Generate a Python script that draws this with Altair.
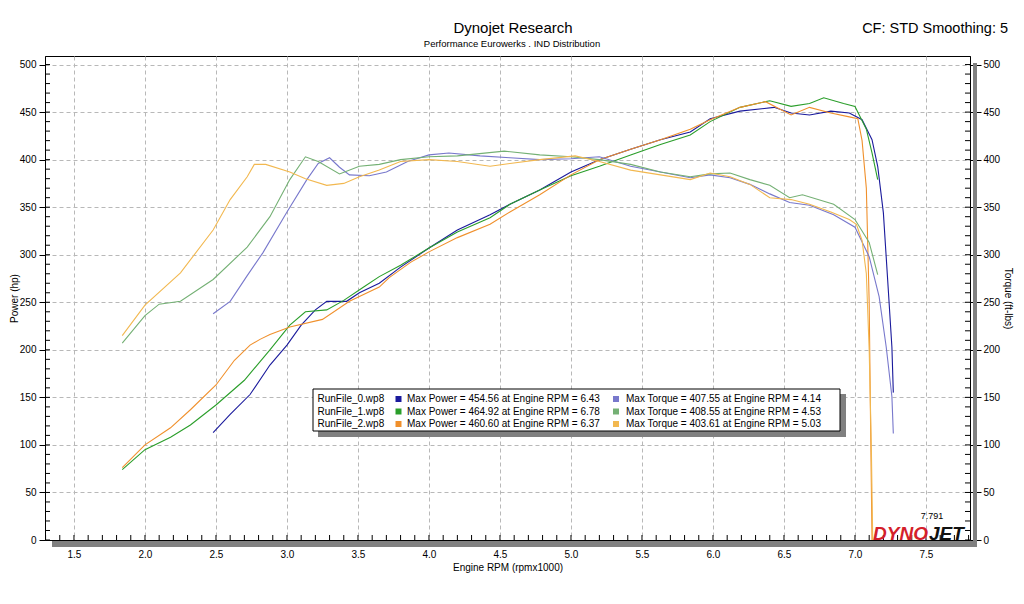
import altair as alt
import pandas as pd

# ---------------- data ----------------
run0_power_rpm = [2.48, 2.60, 2.74, 2.88, 3.00, 3.10, 3.20, 3.28, 3.42, 3.51, 3.65, 3.80, 4.00, 4.20, 4.43, 4.57, 4.78, 5.00, 5.20, 5.42, 5.63, 5.84, 5.98, 6.19, 6.43, 6.55, 6.68, 6.83, 6.96, 7.05, 7.12, 7.16, 7.20, 7.23, 7.26, 7.27]
run0_power_hp = [113, 132, 153, 184, 205, 226, 242, 251, 251, 260, 270, 287, 307, 326, 342, 353, 368, 387, 400, 411, 421, 429, 443, 451, 455, 449, 447, 451, 449, 442, 421, 393, 344, 274, 203, 155]

run0_torque_rpm = [2.48, 2.60, 2.72, 2.83, 3.00, 3.14, 3.22, 3.30, 3.37, 3.44, 3.58, 3.70, 3.85, 4.00, 4.14, 4.36, 4.57, 4.78, 5.00, 5.20, 5.42, 5.63, 5.84, 5.98, 6.12, 6.26, 6.40, 6.54, 6.68, 6.85, 7.00, 7.10, 7.17, 7.22, 7.26, 7.27]
run0_torque_lbft = [238, 251, 278, 302, 345, 379, 396, 402, 392, 384, 383, 387, 398, 405, 407, 404, 402, 400, 401, 403, 393, 387, 381, 384, 381, 374, 364, 355, 352, 342, 329, 298, 256, 203, 151, 112]

run1_power_rpm = [1.84, 2.00, 2.18, 2.32, 2.50, 2.70, 2.88, 3.02, 3.13, 3.28, 3.40, 3.54, 3.65, 3.80, 4.00, 4.20, 4.43, 4.57, 4.78, 5.00, 5.20, 5.42, 5.63, 5.84, 5.98, 6.19, 6.40, 6.55, 6.68, 6.78, 6.92, 7.00, 7.08, 7.12, 7.16]
run1_power_hp = [74, 95, 108, 121, 142, 168, 200, 226, 240, 242, 252, 266, 277, 289, 307, 324, 339, 353, 368, 383, 393, 405, 416, 426, 440, 455, 462, 456, 459, 465, 459, 456, 432, 407, 379]

run1_torque_rpm = [1.84, 2.00, 2.10, 2.25, 2.48, 2.72, 2.88, 3.02, 3.13, 3.22, 3.37, 3.51, 3.65, 3.80, 4.00, 4.20, 4.53, 4.78, 5.00, 5.20, 5.42, 5.63, 5.84, 5.98, 6.12, 6.26, 6.40, 6.54, 6.63, 6.85, 7.00, 7.10, 7.16]
run1_torque_lbft = [207, 236, 248, 251, 274, 308, 340, 379, 403, 398, 385, 393, 395, 400, 403, 404, 409, 405, 403, 400, 395, 387, 382, 385, 386, 379, 373, 360, 363, 353, 337, 313, 279]

run2_power_rpm = [1.84, 2.00, 2.18, 2.32, 2.50, 2.63, 2.74, 2.81, 2.88, 3.02, 3.25, 3.44, 3.65, 3.72, 3.87, 4.00, 4.20, 4.43, 4.57, 4.78, 5.00, 5.20, 5.42, 5.63, 5.84, 5.98, 6.19, 6.37, 6.55, 6.68, 6.83, 6.96, 7.02, 7.05, 7.08, 7.10, 7.11, 7.12]
run2_power_hp = [76, 100, 118, 137, 163, 189, 205, 211, 216, 224, 232, 251, 266, 276, 292, 303, 318, 332, 345, 363, 384, 400, 411, 421, 432, 442, 455, 461, 447, 455, 449, 445, 443, 420, 370, 250, 120, 0]

run2_torque_rpm = [1.84, 2.00, 2.25, 2.48, 2.60, 2.72, 2.77, 2.85, 3.02, 3.13, 3.28, 3.40, 3.51, 3.65, 3.80, 4.00, 4.20, 4.43, 4.57, 4.78, 5.03, 5.20, 5.42, 5.63, 5.84, 5.98, 6.12, 6.26, 6.40, 6.55, 6.68, 6.83, 6.96, 7.01, 7.05, 7.08, 7.10, 7.115, 7.125]
run2_torque_lbft = [215, 247, 281, 326, 358, 382, 395, 395, 387, 380, 373, 375, 382, 389, 398, 400, 398, 393, 396, 400, 404, 398, 389, 384, 379, 386, 382, 374, 360, 358, 353, 345, 337, 332, 315, 280, 200, 100, 0]

run_names = ["RunFile_0.wp8", "RunFile_1.wp8", "RunFile_2.wp8"]
max_power = ["454.56", "464.92", "460.60"]
max_power_rpm = ["6.43", "6.78", "6.37"]
max_torque = ["407.55", "408.55", "403.61"]
max_torque_rpm = ["4.14", "4.53", "5.03"]

power_colors = ["#1a1a9c", "#2a9e2a", "#f0902c"]
torque_colors = ["#7878cc", "#74b074", "#f2b850"]

x_ticks = [1.5, 2.0, 2.5, 3.0, 3.5, 4.0, 4.5, 5.0, 5.5, 6.0, 6.5, 7.0, 7.5]
y_ticks = [0, 50, 100, 150, 200, 250, 300, 350, 400, 450, 500]
x_minor = [round(1.3 + 0.1 * i, 1) for i in range(66)]
y_minor = list(range(0, 501, 10))

# ---------------- tables ----------------
def series(rpm, val, name):
    return pd.DataFrame({"rpm": rpm, "value": val, "series": name})

power_df = pd.concat([
    series(run0_power_rpm, run0_power_hp, "P0"),
    series(run1_power_rpm, run1_power_hp, "P1"),
    series(run2_power_rpm, run2_power_hp, "P2"),
])
torque_df = pd.concat([
    series(run0_torque_rpm, run0_torque_lbft, "T0"),
    series(run1_torque_rpm, run1_torque_lbft, "T1"),
    series(run2_torque_rpm, run2_torque_lbft, "T2"),
])

FONT = "Liberation Sans"
PW, PH = 925, 484

xscale = alt.Scale(domain=[1.296, 7.81], nice=False, zero=False)
yscale = alt.Scale(domain=[0, 509], nice=False, zero=False)
cscale = alt.Scale(domain=["P0", "P1", "P2", "T0", "T1", "T2"],
                   range=power_colors + torque_colors)

x_axis = alt.Axis(values=x_ticks, format=".1f", title="Engine RPM (rpmx1000)",
                  grid=True, gridDash=[4, 3], gridColor="#b8b8b8",
                  ticks=False, labels=True, domain=True, labelPadding=9, titlePadding=3,
                  labelFontSize=10, titleFontSize=10)

one = alt.Data(values=[{"a": 1}])

# shadows of the frame
shadow_bottom = alt.Chart(one).mark_rect(color="#808080").encode(
    x=alt.value(7), x2=alt.value(PW + 7), y=alt.value(PH + 1), y2=alt.value(PH + 7))
shadow_right = alt.Chart(one).mark_rect(color="#808080").encode(
    x=alt.value(PW + 3), x2=alt.value(PW + 7), y=alt.value(7), y2=alt.value(PH + 7))

power = alt.Chart(power_df).mark_line(strokeWidth=1.1).encode(
    x=alt.X("rpm:Q", scale=xscale, axis=x_axis),
    y=alt.Y("value:Q", scale=yscale,
            axis=alt.Axis(orient="left", values=y_ticks, title="Power (hp)",
                          grid=True, gridDash=[4, 3], gridColor="#b8b8b8",
                          tickSize=6, labelPadding=3, titlePadding=0,
                          labelFontSize=10, titleFontSize=10)),
    color=alt.Color("series:N", scale=cscale, legend=None),
)

torque = alt.Chart(torque_df).mark_line(strokeWidth=1.1).encode(
    x=alt.X("rpm:Q", scale=xscale, axis=x_axis),
    y=alt.Y("value:Q", scale=yscale,
            axis=alt.Axis(orient="right", values=y_ticks, title="Torque (ft-lbs)",
                          grid=False, tickSize=11, labelPadding=2, titlePadding=3,
                          labelFontSize=10, titleFontSize=10)),
    color=alt.Color("series:N", scale=cscale, legend=None),
)

minor_x = alt.Chart(pd.DataFrame({"rpm": x_minor})).mark_rule(color="black").encode(
    x=alt.X("rpm:Q", scale=xscale, axis=x_axis), y=alt.value(PH), y2=alt.value(PH - 5))
minor_yl = alt.Chart(pd.DataFrame({"t": y_minor})).mark_rule(color="black").encode(
    y=alt.Y("t:Q", scale=yscale, axis=None), x=alt.value(0), x2=alt.value(5))
minor_yr = alt.Chart(pd.DataFrame({"t": y_minor})).mark_rule(color="black").encode(
    y=alt.Y("t:Q", scale=yscale, axis=None), x=alt.value(PW), x2=alt.value(PW - 5))

def text(s, x, y, size, align="left", color="black", weight="normal", style="normal"):
    return alt.Chart(one).mark_text(text=s, align=align, baseline="middle", font=FONT,
                                    fontSize=size, color=color, fontWeight=weight,
                                    fontStyle=style).encode(x=alt.value(x), y=alt.value(y))

titles = [
    text("Dynojet Research", 468, -28.5, 15, align="center"),
    text("Performance Eurowerks . IND Distribution", 467, -12.5, 9.5, align="center"),
    text("CF: STD Smoothing: 5", 963, -27.5, 14.5, align="right"),
    text("7.791", 887, 460, 9, align="center"),
    text("DYNO", 883, 478, 19, align="right", color="#d41f2b", weight="bold", style="italic"),
    text("JET", 884, 478, 19, align="left", color="#111111", weight="bold", style="italic"),
]

# legend box
legend_layers = [
    alt.Chart(one).mark_rect(color="#808080").encode(
        x=alt.value(273), x2=alt.value(801), y=alt.value(338), y2=alt.value(381)),
    alt.Chart(one).mark_rect(fill="white", stroke="black", strokeWidth=1).encode(
        x=alt.value(268), x2=alt.value(795), y=alt.value(333), y2=alt.value(375)),
]
row_y = [343, 355.5, 368]
for i in range(3):
    y = row_y[i]
    legend_layers += [
        text(run_names[i], 272.5, y, 10),
        alt.Chart(one).mark_rect(color=power_colors[i]).encode(
            x=alt.value(350.5), x2=alt.value(356.5), y=alt.value(y - 3), y2=alt.value(y + 3)),
        text(f"Max Power = {max_power[i]} at Engine RPM = {max_power_rpm[i]}", 362, y, 10),
        alt.Chart(one).mark_rect(color=torque_colors[i]).encode(
            x=alt.value(568), x2=alt.value(574), y=alt.value(y - 3), y2=alt.value(y + 3)),
        text(f"Max Torque = {max_torque[i]} at Engine RPM = {max_torque_rpm[i]}", 581, y, 10),
    ]

chart = alt.layer(
    shadow_bottom, shadow_right, power, torque, minor_x, minor_yl, minor_yr,
    *titles, *legend_layers
).resolve_axis(y="independent").properties(
    width=PW, height=PH,
    padding={"left": 37, "top": 48, "right": 46, "bottom": 56},
    autosize=alt.AutoSizeParams(type="none"),
    background="white",
).configure_axis(
    labelFont=FONT, titleFont=FONT, labelColor="black", titleColor="black",
    titleFontWeight="normal", domainColor="black", tickColor="black",
).configure_view(stroke="black", strokeWidth=1)

chart.save("out.html", embed_options={"renderer": "svg", "actions": False})
